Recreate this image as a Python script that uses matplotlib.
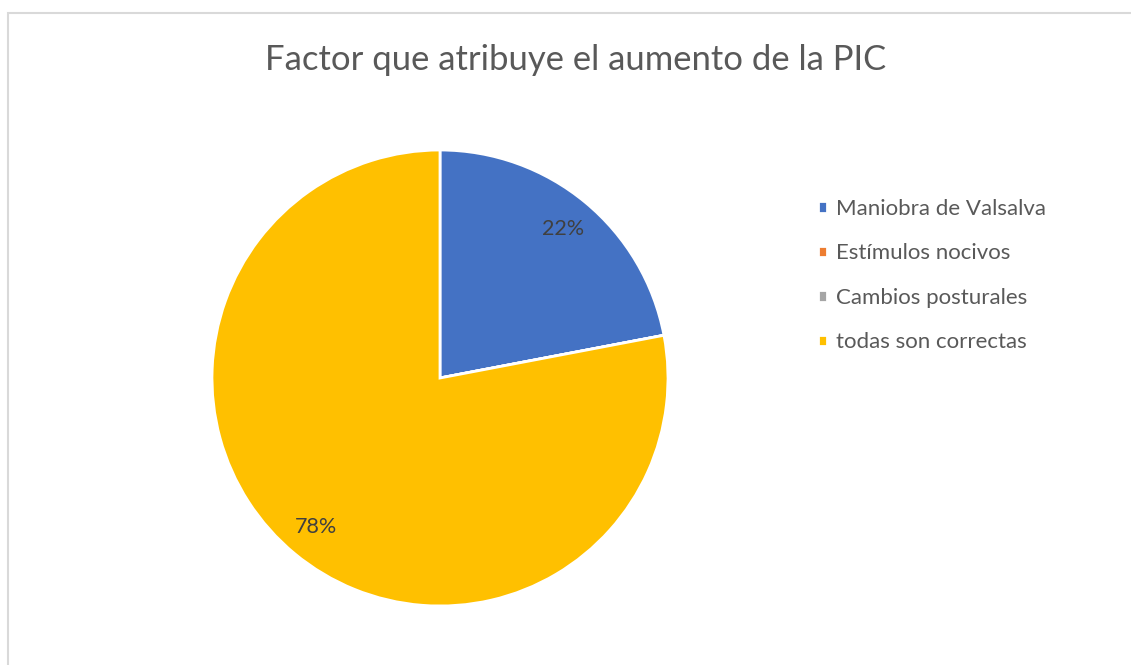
import matplotlib.pyplot as plt
from matplotlib.patches import Rectangle

# data
categories = ['Maniobra de Valsalva', 'Estímulos nocivos', 'Cambios posturales', 'todas son correctas']
values = [22, 0, 0, 78]
colors = ['#4472C4', '#ED7D31', '#A5A5A5', '#FFC000']

plt.rcParams['font.family'] = ['Lato', 'DejaVu Sans']

W, H = 1131, 665
fig = plt.figure(figsize=(W / 100, H / 100), dpi=100)

# light chart frame (left + top edge visible)
fig.patches.append(Rectangle((8 / W, -0.1), 1.2, (H - 13) / H + 0.1, transform=fig.transFigure,
                             fill=False, edgecolor='#D9D9D9', linewidth=1.5))

ax = fig.add_axes([212 / W, (H - 606) / H, 456 / W, 456 / H])


def fmt(p):
    return '%d%%' % round(p) if p > 0 else ''


wedges, texts, autotexts = ax.pie(values, colors=colors, startangle=90, counterclock=False,
                                  autopct=fmt, pctdistance=0.85,
                                  wedgeprops=dict(edgecolor='white', linewidth=2),
                                  textprops=dict(color='#404040', fontsize=15.5))
ax.set_xlim(-1, 1)
ax.set_ylim(-1, 1)
ax.set_aspect('equal')

fig.text(576 / W, 1 - 60 / H, 'Factor que atribuye el aumento de la PIC', ha='center', va='center',
         fontsize=24.9, color='#595959')

fig.legend(wedges, categories, loc='upper left', bbox_to_anchor=(798 / W, 1 - 179 / H),
           frameon=False, fontsize=16, labelcolor='#595959',
           handlelength=0.4, handleheight=0.4, handletextpad=0.4, labelspacing=1.1)

fig.savefig('out.png', dpi=100)
